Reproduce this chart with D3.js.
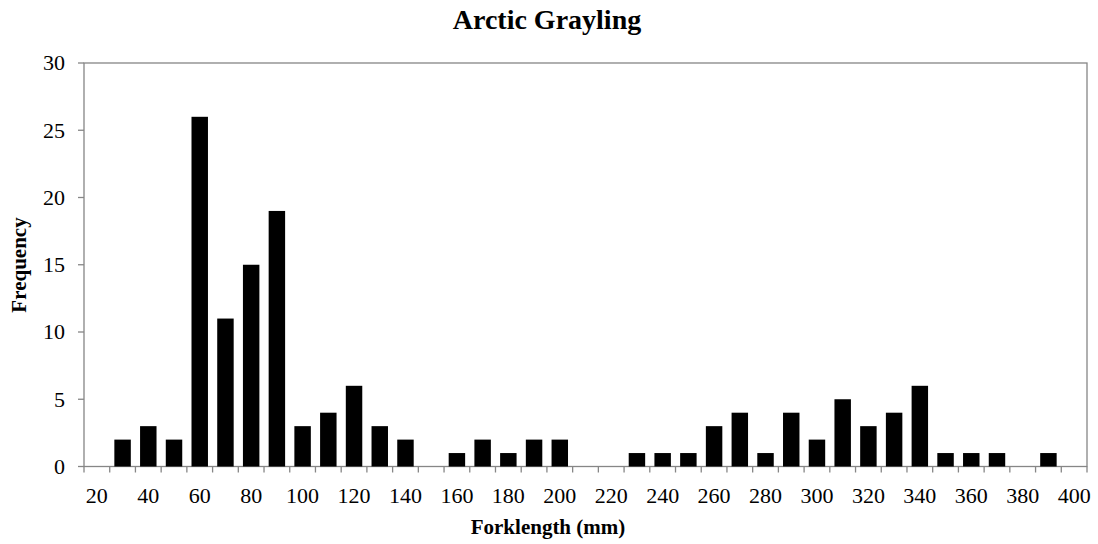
<!DOCTYPE html>
<html><head><meta charset="utf-8">
<script src="https://cdn.jsdelivr.net/npm/d3@7"></script>
<style>body{margin:0;background:#fff;} svg{display:block;}</style>
</head><body>
<svg id="c" width="1098" height="544"></svg>
<script>
const categories = [20,30,40,50,60,70,80,90,100,110,120,130,140,150,160,170,180,190,200,210,220,230,240,250,260,270,280,290,300,310,320,330,340,350,360,370,380,390,400];
const frequency = [0,2,3,2,26,11,15,19,3,4,6,3,2,0,1,2,1,2,2,0,0,1,1,1,3,4,1,4,2,5,3,4,6,1,1,1,0,1,0];
const yTicks = [0,5,10,15,20,25,30];
const xLabels = [20,40,60,80,100,120,140,160,180,200,220,240,260,280,300,320,340,360,380,400];

const svg = d3.select("#c");
const L=84, R=1087, T=63, B=466.5;
const font = "'Liberation Serif','Times New Roman',serif";
const axisColor = "#868686";

const x = d3.scaleBand().domain(categories).range([L,R]).padding(0);
const y = d3.scaleLinear().domain([0,30]).range([B,T]);
const step = x.step();

// plot border
svg.append("rect").attr("x",L).attr("y",T).attr("width",R-L).attr("height",B-T)
  .attr("fill","none").attr("stroke",axisColor).attr("stroke-width",1.3);

// bars
svg.append("g").selectAll("rect").data(categories.map((c,i)=>({c,v:frequency[i]})))
  .join("rect")
  .attr("x",d=>x(d.c)+step*0.18).attr("width",step*0.64)
  .attr("y",d=>y(d.v)).attr("height",d=>B-y(d.v)).attr("fill","#000");

// y ticks
const gy = svg.append("g");
yTicks.forEach(t=>{
  gy.append("line").attr("x1",L-6).attr("x2",L).attr("y1",y(t)).attr("y2",y(t)).attr("stroke",axisColor).attr("stroke-width",1.3);
  gy.append("text").attr("x",L-19).attr("y",y(t)).attr("dy","0.34em").attr("text-anchor","end")
    .style("font-family",font).style("font-size","22px").text(t);
});

// x ticks at band boundaries
const gx = svg.append("g");
for(let i=0;i<=categories.length;i++){
  const xx = L + i*step;
  gx.append("line").attr("x1",xx).attr("x2",xx).attr("y1",B).attr("y2",B+6).attr("stroke",axisColor).attr("stroke-width",1.3);
}
xLabels.forEach(l=>{
  gx.append("text").attr("x",x(l)+step/2).attr("y",503).attr("text-anchor","middle")
    .style("font-family",font).style("font-size","22px").text(l);
});

// titles
svg.append("text").attr("x",547).attr("y",29).attr("text-anchor","middle")
  .style("font-family",font).style("font-weight","bold").style("font-size","28px").text("Arctic Grayling");
svg.append("text").attr("x",548).attr("y",534).attr("text-anchor","middle")
  .style("font-family",font).style("font-weight","bold").style("font-size","21px").text("Forklength (mm)");
svg.append("text").attr("transform",`translate(26,265) rotate(-90)`).attr("text-anchor","middle")
  .style("font-family",font).style("font-weight","bold").style("font-size","21px").text("Frequency");
</script>
</body></html>
